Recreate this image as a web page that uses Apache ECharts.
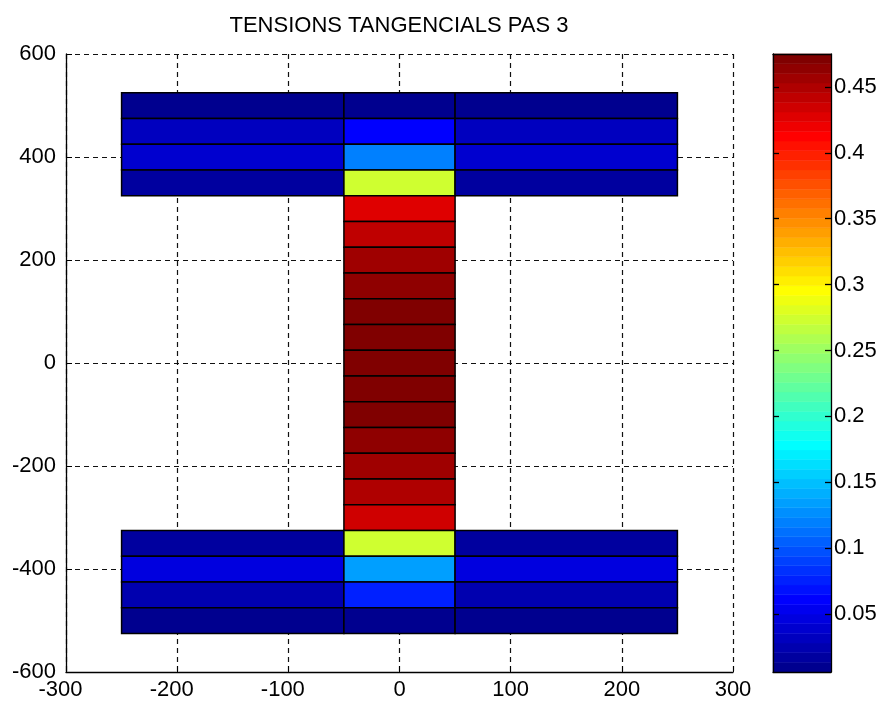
<!DOCTYPE html>
<html>
<head>
<meta charset="utf-8">
<title>Tensions tangencials pas 3</title>
<script src="https://cdn.jsdelivr.net/npm/echarts@6/dist/echarts.min.js"></script>
<style>
  html, body { margin: 0; padding: 0; background: #fff; }
  #chart { width: 883px; height: 702px; }
</style>
</head>
<body>
<div id="chart"></div>
<script>
// I-beam cross-section split into layers; each layer carries a shear stress value.
const flangeX = [-250, -50, 50, 250];          // left side | centre | right side
const webX = [-50, 50];
const topFlangeY = [525, 475, 425, 375, 325];   // layer edges, top to bottom
const webY = [325, 275, 225, 175, 125, 75, 25, -25, -75, -125, -175, -225, -275, -325];
const bottomFlangeY = [-325, -375, -425, -475, -525];

// Stress per layer (top to bottom)
const topFlangeSide = [0.007, 0.032, 0.039, 0.017];
const topFlangeCentre = [0.008, 0.061, 0.120, 0.270];
const webValues = [0.427, 0.442, 0.456, 0.464, 0.471, 0.474, 0.475, 0.473, 0.470, 0.463, 0.456, 0.449, 0.434];
const bottomFlangeCentre = [0.277, 0.135, 0.076, 0.006];
const bottomFlangeSide = [0.018, 0.046, 0.025, 0.008];

// Axis ticks
const xTicks = { min: -300, max: 300, step: 100 };
const yTicks = { min: -600, max: 600, step: 200 };
const colorbarTicks = [0.05, 0.1, 0.15, 0.2, 0.25, 0.3, 0.35, 0.4, 0.45];

const FONT = "'Liberation Sans', Arial, sans-serif";

// Cells: [x0, x1, y0, y1, value]
const cells = [];
function addFlange(edges, side, centre) {
  for (let i = 0; i < side.length; i++) {
    const y0 = edges[i + 1], y1 = edges[i];
    cells.push([flangeX[0], flangeX[1], y0, y1, side[i]]);
    cells.push([flangeX[1], flangeX[2], y0, y1, centre[i]]);
    cells.push([flangeX[2], flangeX[3], y0, y1, side[i]]);
  }
}
addFlange(topFlangeY, topFlangeSide, topFlangeCentre);
for (let i = 0; i < webValues.length; i++) {
  cells.push([webX[0], webX[1], webY[i + 1], webY[i], webValues[i]]);
}
addFlange(bottomFlangeY, bottomFlangeSide, bottomFlangeCentre);

// Colour limits follow the data range
const allValues = cells.map(c => c[4]);
const cmin = Math.min(...allValues);
const cmax = Math.max(...allValues);

// 64-entry jet colormap
const NCOL = 64;
const JET = (function () {
  const n = NCOL / 4;
  const u = [];
  for (let i = 1; i <= n; i++) u.push(i / n);
  for (let i = 0; i < n - 1; i++) u.push(1);
  for (let i = n; i >= 1; i--) u.push(i / n);
  const off = Math.ceil(n / 2) - (NCOL % 4 === 1 ? 1 : 0);
  const at = j => (j >= 1 && j <= u.length ? u[j - 1] : 0);
  const table = [];
  for (let row = 1; row <= NCOL; row++) {
    const r = at(row - off - n), g = at(row - off), b = at(row - off + n);
    table.push('rgb(' + Math.round(r * 255) + ',' + Math.round(g * 255) + ',' + Math.round(b * 255) + ')');
  }
  return table;
})();

function colourIndex(v) {
  let k = Math.floor((v - cmin) / (cmax - cmin) * NCOL);
  return Math.max(0, Math.min(NCOL - 1, k));
}

// Colour bar bands: one per colormap entry
const bands = [];
for (let k = 0; k < NCOL; k++) {
  bands.push([0, 1, cmin + (cmax - cmin) * k / NCOL, cmin + (cmax - cmin) * (k + 1) / NCOL, k]);
}

function rectFrom(api) {
  const p0 = api.coord([api.value(0), api.value(3)]);
  const p1 = api.coord([api.value(1), api.value(2)]);
  return { x: p0[0], y: p0[1], width: p1[0] - p0[0], height: p1[1] - p0[1] };
}

const chart = echarts.init(document.getElementById('chart'), null, { renderer: 'canvas' });

const gridLine = { show: true, lineStyle: { color: '#111', width: 1.2, type: [5, 4] } };
const labelFont = { color: '#000', fontFamily: FONT, fontSize: 22, lineHeight: 22 };
const solidAxis = { show: true, onZero: false, lineStyle: { color: '#000', width: 1.3 } };

chart.setOption({
  backgroundColor: '#fff',
  animation: false,
  title: {
    text: 'TENSIONS TANGENCIALS PAS 3',
    left: 399, top: 15, padding: 0,
    textAlign: 'center',
    textStyle: { color: '#000', fontFamily: FONT, fontSize: 22, fontWeight: 'normal', lineHeight: 22 }
  },
  grid: [
    { left: 66, right: 150, top: 54, bottom: 30, containLabel: false },
    { left: 773, right: 52, top: 54, bottom: 30, containLabel: false }
  ],
  xAxis: [
    {
      gridIndex: 0, type: 'value', min: xTicks.min, max: xTicks.max, interval: xTicks.step,
      axisLine: solidAxis,
      axisTick: { show: true, inside: true, length: 6, lineStyle: { color: '#000' } },
      axisLabel: {
        ...labelFont, margin: 7,
        formatter: v => (v < 0 ? '{neg|' + v + '}' : '' + v),
        rich: { neg: { ...labelFont, padding: [0, 11, 0, 0] } }
      },
      splitLine: gridLine
    },
    {
      gridIndex: 1, type: 'value', min: 0, max: 1, position: 'bottom', z: 10,
      axisLine: solidAxis,
      axisTick: { show: false }, axisLabel: { show: false }, splitLine: { show: false }
    },
    {
      gridIndex: 1, type: 'value', min: 0, max: 1, position: 'top', z: 10,
      axisLine: solidAxis,
      axisTick: { show: false }, axisLabel: { show: false }, splitLine: { show: false }
    }
  ],
  yAxis: [
    {
      gridIndex: 0, type: 'value', min: yTicks.min, max: yTicks.max, interval: yTicks.step,
      axisLine: solidAxis,
      axisTick: { show: true, inside: true, length: 6, lineStyle: { color: '#000' } },
      axisLabel: { ...labelFont, margin: 10 },
      splitLine: gridLine
    },
    {
      gridIndex: 1, type: 'value', min: cmin, max: cmax, position: 'left', z: 10,
      axisLine: solidAxis,
      axisTick: { show: true, inside: true, length: 6, customValues: colorbarTicks, lineStyle: { color: '#000', width: 1.3 } },
      axisLabel: { show: false, customValues: colorbarTicks },
      splitLine: { show: false }
    },
    {
      gridIndex: 1, type: 'value', min: cmin, max: cmax, position: 'right', z: 10,
      axisLine: solidAxis,
      axisTick: { show: true, inside: true, length: 6, customValues: colorbarTicks, lineStyle: { color: '#000', width: 1.3 } },
      axisLabel: { ...labelFont, margin: 3, customValues: colorbarTicks, formatter: v => String(+v.toFixed(2)) },
      splitLine: { show: false }
    }
  ],
  series: [
    {
      type: 'custom',
      name: 'stress',
      xAxisIndex: 0, yAxisIndex: 0,
      data: cells,
      encode: { x: [0, 1], y: [2, 3] },
      renderItem: function (params, api) {
        return {
          type: 'rect',
          shape: rectFrom(api),
          style: { fill: JET[colourIndex(api.value(4))], stroke: '#000', lineWidth: 1.5 }
        };
      }
    },
    {
      type: 'custom',
      name: 'colorbar',
      xAxisIndex: 1, yAxisIndex: 1,
      data: bands,
      encode: { x: [0, 1], y: [2, 3] },
      renderItem: function (params, api) {
        const c = JET[api.value(4)];
        return {
          type: 'rect',
          shape: rectFrom(api),
          style: { fill: c, stroke: c, lineWidth: 0.5 }
        };
      }
    }
  ]
});
</script>
</body>
</html>
